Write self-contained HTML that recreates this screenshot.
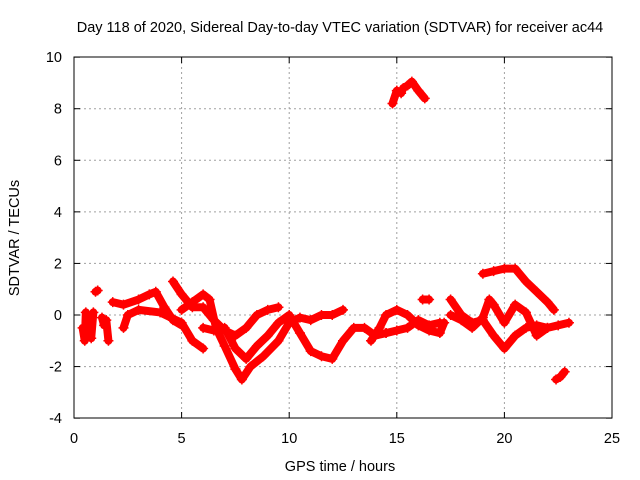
<!DOCTYPE html>
<html><head><meta charset="utf-8"><style>
body{margin:0;background:#fff}
svg{display:block;font-family:"Liberation Sans",sans-serif}
</style></head><body>
<svg width="640" height="480">
<text x="340" y="32" text-anchor="middle" font-size="14.5">Day 118 of 2020, Sidereal Day-to-day VTEC variation (SDTVAR) for receiver ac44</text>
<g id="grid"></g>
<g id="ticks"></g>
<g id="marks"></g>
<rect x="74" y="57" width="538" height="361" fill="none" stroke="#000"/>
<text x="340" y="471" text-anchor="middle" font-size="14.5">GPS time / hours</text>
<text transform="translate(19,238) rotate(-90)" text-anchor="middle" font-size="14.5">SDTVAR / TECUs</text>
</svg>
<script>
const xTicks=[0,5,10,15,20,25];
const yTicks=[-4,-2,0,2,4,6,8,10];
const trace1=[[0.4,-0.5],[0.5,-1.0],[0.55,0.1],[0.7,-0.3],[0.8,-0.9],[0.9,0.1]];
const trace1b=[[1.0,0.9],[1.1,0.95]];
const trace1c=[[1.3,-0.1],[1.4,-0.4],[1.5,-0.2],[1.6,-1.0]];
const trace2=[[1.8,0.5],[2.3,0.4],[3,0.6],[3.5,0.8],[3.8,0.9],[4.2,0.3],[4.6,-0.2],[5,-0.4]];
const trace3=[[2.3,-0.5],[2.5,0],[3,0.2],[4,0.1],[5,-0.3],[5.5,-1.0],[6,-1.3]];
const trace4=[[4.6,1.3],[5,0.8],[5.5,0.3],[6,0.3],[6.5,-0.2],[7,-0.6],[7.5,-0.8],[8,-0.5],[8.5,0],[9,0.2],[9.5,0.3]];
const trace5=[[5,0.2],[5.5,0.5],[6,0.8],[6.3,0.6],[6.6,-0.5],[7,-1.2],[7.5,-2.1],[7.8,-2.5],[8.2,-2],[8.8,-1.6],[9.5,-1],[10,-0.3],[10.5,-0.1],[11,-0.2],[11.5,0],[12,0],[12.5,0.2]];
const trace6=[[6,-0.5],[6.5,-0.6],[7,-0.5],[7.5,-1.3],[8,-1.7],[8.5,-1.2],[9,-0.8],[9.5,-0.3],[10,0],[10.5,-0.7],[11,-1.4],[11.5,-1.6],[12,-1.7],[12.5,-1.0],[13,-0.5],[13.5,-0.5],[14,-0.8],[14.5,-0.7]];
const trace7=[[13.8,-1.0],[14.2,-0.5],[14.5,0],[15,0.2],[15.5,0],[16,-0.4],[16.5,-0.6],[17,-0.7],[17.2,-0.3]];
const trace8=[[14.5,-0.7],[15,-0.6],[15.5,-0.5],[16,-0.2],[16.5,-0.4],[17,-0.3]];
const trace9=[[14.8,8.2],[15,8.7],[15.2,8.6],[15.3,8.8],[15.5,8.9],[15.7,9.05],[16,8.7],[16.3,8.4]];
const trace10=[[17.5,0.6],[18,0],[18.5,-0.3],[19,-0.2],[19.5,-0.8],[20,-1.3],[20.5,-0.8],[21,-0.5],[21.5,-0.4],[22,-0.5],[22.5,-0.4],[23,-0.3]];
const trace11=[[17.5,0],[18,-0.2],[18.5,-0.5],[19,-0.1],[19.3,0.6],[19.5,0.4],[20,-0.3],[20.5,0.4],[21,0.1],[21.5,-0.8],[22,-0.5]];
const trace12=[[19,1.6],[19.5,1.7],[20,1.8],[20.5,1.8],[21,1.3],[21.5,0.9],[22,0.5],[22.3,0.2]];
const trace13=[[22.4,-2.5],[22.6,-2.4],[22.8,-2.2]];
const trace14=[[16.2,0.6],[16.5,0.6]];
const traces=[trace1,trace1b,trace1c,trace2,trace3,trace4,trace5,trace6,trace7,trace8,trace9,trace10,trace11,trace12,trace13,trace14];
const NS='http://www.w3.org/2000/svg';
function sx(v){return 74+v*(538/25);}
function sy(v){return 315-v*(361/14);}
function mk(t,a,p){const e=document.createElementNS(NS,t);for(const k in a)e.setAttribute(k,a[k]);p.appendChild(e);return e;}
const grid=document.getElementById('grid'),ticks=document.getElementById('ticks'),marks=document.getElementById('marks');
xTicks.forEach(t=>{const x=sx(t);
 if(t>0&&t<25){const l=mk('line',{x1:x,x2:x,y1:57,y2:418,stroke:'#a0a0a0','stroke-dasharray':'2,3'},grid);}
 mk('line',{x1:x,x2:x,y1:418,y2:412,stroke:'#000'},ticks);mk('line',{x1:x,x2:x,y1:57,y2:63,stroke:'#000'},ticks);
 const tx=mk('text',{x:x,y:443,'text-anchor':'middle','font-size':'14.5'},ticks);tx.textContent=t;
 });
yTicks.forEach(t=>{const y=sy(t);
 if(t>-4&&t<10){const l=mk('line',{x1:74,x2:612,y1:y,y2:y,stroke:'#a0a0a0','stroke-dasharray':'2,3'},grid);}
 mk('line',{x1:74,x2:80,y1:y,y2:y,stroke:'#000'},ticks);mk('line',{x1:612,x2:606,y1:y,y2:y,stroke:'#000'},ticks);
 const tx=mk('text',{x:62,y:y+5,'text-anchor':'end','font-size':'14.5'},ticks);tx.textContent=t;
 });
traces.forEach(tr=>{
 const pl=mk('polyline',{points:tr.map(p=>sx(p[0])+','+sy(p[1])).join(' '),fill:'none',stroke:'#ff0000','stroke-width':8,'stroke-linejoin':'round','stroke-linecap':'round'},marks);
 
 
 tr.forEach(p=>{const x=sx(p[0]),y=sy(p[1]);
  const m=mk('path',{d:`M${x-5},${y}H${x+5}M${x},${y-5}V${y+5}`,stroke:'#ff0000','stroke-width':1.5},marks);
  
  });
});
</script>
</body></html>
